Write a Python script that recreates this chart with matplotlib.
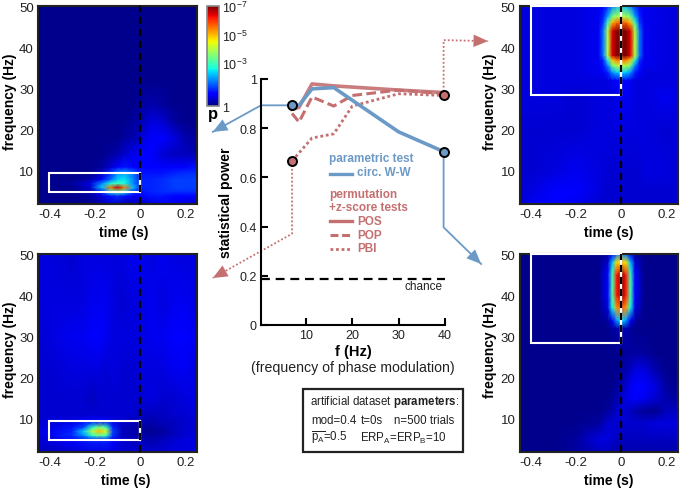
import matplotlib
matplotlib.use('Agg')
import matplotlib.pyplot as plt
from matplotlib.patches import Rectangle

plt.rcParams['font.family'] = ['Liberation Sans', 'DejaVu Sans']
plt.rcParams['mathtext.fontset'] = 'custom'
plt.rcParams['mathtext.rm'] = 'Liberation Sans'
plt.rcParams['mathtext.it'] = 'Liberation Sans'
plt.rcParams['mathtext.bf'] = 'Liberation Sans:bold'

W, H = 681, 489
BLUE = '#6c9ac6'
RED = '#c46f70'
DARK = '#222222'

# power curves, central plot
f_blue = [7, 8.5, 11.3, 16, 30, 39.7]
circ_ww = [0.893, 0.893, 0.96, 0.965, 0.785, 0.705]
f_pos = [7, 8.5, 11.3, 16, 30, 39.7]
pos = [0.877, 0.885, 0.98, 0.972, 0.955, 0.945]
f_pop = [7, 8.5, 11.3, 16, 20, 30, 39.7]
pop = [0.86, 0.825, 0.927, 0.89, 0.933, 0.955, 0.94]
f_pbi = [7, 11.3, 16, 20, 30, 39.7]
pbi = [0.667, 0.76, 0.777, 0.89, 0.94, 0.933]
chance_x = [0.3, 40]
chance_y = [0.187, 0.187]

# connectors from the circled points out to the panels (same units as the plot)
conn_blue_l = ([7, 0.3, -10.1], [0.893, 0.893, 0.785])
conn_blue_r = ([39.7, 39.7, 47.8], [0.705, 0.397, 0.248])
conn_red_l = ([7, 7, -10.1], [0.667, 0.371, 0.191])
conn_red_r = ([39.7, 39.7, 49.3], [0.933, 1.158, 1.154])
blue_dots = ([7, 39.7], [0.893, 0.705])
red_dots = ([7, 39.7], [0.667, 0.933])

# -log10(p)
t_tl = [-.45, -.4, -.3, -.22, -.17, -.13, -.1, -.07, -.03, 0, .05, .1, .15, .2, .25]
f_tl = [2, 4, 5, 6, 7, 8, 9.5, 11, 14, 18, 22, 26, 32, 50]
z_tl = [
    [.1, .1, .1, .1, .3, .5, .4, .3, .3, .4, .6, .7, .7, .6, .5],
    [.1, .1, .1, .2, .6, 1.0, 1.2, 1.0, .8, .8, 1.0, 1.0, .9, .9, .9],
    [.1, .1, .1, .3, 1.0, 2.6, 3.4, 2.6, 1.2, 1.0, 1.1, 1.2, 1.2, 1.2, 1.2],
    [.1, .1, .1, .5, 2.2, 5.5, 6.6, 5.5, 2.2, 1.1, 1.1, 1.2, 1.3, 1.3, 1.3],
    [.1, .1, .2, .6, 1.8, 2.7, 3.0, 2.7, 1.8, 1.1, 1.1, 1.2, 1.3, 1.3, 1.3],
    [.1, .1, .1, .3, .9, 1.6, 2.3, 2.5, 1.8, 1.1, 1.1, 1.2, 1.3, 1.3, 1.3],
    [.1, .1, .1, .1, .4, 1.2, 1.9, 2.0, 1.6, 1.0, 1.0, 1.0, 1.1, 1.2, 1.2],
    [.1, .1, .1, .1, .2, .5, .9, 1.0, .9, .8, .9, .8, .8, .9, 1.0],
    [.1, .1, .1, .1, .1, .2, .3, .5, .7, .8, .9, .5, .4, .4, .3],
    [.1, .1, .1, .1, .1, .1, .1, .2, .3, .5, .8, .8, .6, .3, .2],
    [.1, .1, .1, .1, .1, .1, .1, .1, .2, .3, .6, .5, .2, .1, .1],
    [.1, .1, .1, .1, .1, .1, .1, .1, .1, .2, .3, .2, .1, .1, .1],
    [.1, .1, .1, .1, .1, .1, .1, .1, .1, .1, .1, .1, .1, .1, .1],
    [.1, .1, .1, .1, .1, .1, .1, .1, .1, .1, .1, .1, .1, .1, .1],
]

t_bl = [-.45, -.4, -.3, -.25, -.21, -.18, -.15, -.12, -.08, -.03, 0, .05, .1, .15, .2, .25]
f_bl = [2, 5, 6, 7, 8, 9.5, 11, 15, 22, 30, 38, 50]
z_bl = [
    [.4, .4, .5, .6, .6, .6, .6, .6, .5, .5, .5, .5, .5, .6, .6, .6],
    [.5, .6, .8, 1.0, 1.1, 1.1, 1.1, .9, .5, .4, .4, .3, .4, .5, .6, .6],
    [.6, .7, 1.2, 1.8, 2.8, 3.3, 3.0, 1.2, .4, .3, .3, .2, .3, .4, .5, .6],
    [.6, .7, 1.1, 2.3, 4.0, 5.0, 4.2, 1.3, .4, .3, .2, .15, .2, .4, .5, .5],
    [.6, .6, 1.0, 1.4, 2.8, 3.6, 3.0, 1.1, .4, .3, .2, .2, .3, .4, .5, .5],
    [.5, .6, .6, .8, .9, .9, .9, .6, .5, .4, .4, .3, .4, .4, .5, .5],
    [.5, .5, .5, .5, .5, .5, .5, .5, .5, .5, .4, .4, .4, .5, .5, .6],
    [.5, .5, .5, .5, .4, .5, .5, .5, .5, .5, .5, .6, .5, .5, .6, .6],
    [.5, .5, .6, .6, .6, .6, .5, .6, .5, .5, .6, .6, .6, .7, .7, .6],
    [.5, .6, .7, .7, .8, .8, .7, .6, .6, .6, .6, .7, .7, .8, .9, .7],
    [.6, .6, .6, .6, .7, .7, .7, .6, .5, .6, .6, .7, .6, .7, .7, .6],
    [.6, .6, .5, .6, .6, .6, .6, .6, .6, .7, .7, .6, .7, .6, .6, .6],
]

t_tr = [-.45, -.4, -.3, -.2, -.1, -.08, -.06, -.04, -.02, 0, .02, .04, .06, .08, .1, .2, .25]
f_tr = [2, 5, 10, 20, 28, 32, 34, 35.6, 37, 38, 44, 46, 47.5, 50]
z_tr = [
    [.5, .7, .8, .7, .5, .5, .5, .5, .5, .5, .5, .5, .5, .5, .5, .5, .5],
    [.5, .6, .8, .8, .6, .5, .5, .5, .5, .5, .5, .5, .5, .5, .5, .5, .5],
    [.5, .5, .6, .7, .6, .6, .5, .5, .5, .5, .5, .5, .5, .5, .6, .6, .5],
    [.5, .5, .5, .5, .6, .6, .6, .6, .6, .6, .6, .6, .6, .6, .6, .5, .6],
    [.6, .6, .6, .5, .6, .6, .6, .6, .7, .7, .7, .7, .6, .6, .6, .7, .6],
    [.6, .6, .6, .6, .6, .6, .6, .7, .8, .8, .8, .7, .6, .6, .6, .6, .6],
    [.6, .6, .6, .6, .7, .8, 1.1, 1.9, 2.3, 2.4, 2.3, 1.9, 1.1, .8, .6, .6, .6],
    [.6, .6, .6, .6, .7, 1.0, 1.8, 3.4, 4.0, 4.1, 4.0, 3.4, 1.8, 1.0, .7, .6, .6],
    [.6, .6, .6, .6, .7, 1.2, 2.8, 4.9, 5.5, 5.6, 5.5, 4.9, 2.8, 1.2, .7, .6, .6],
    [.6, .6, .6, .6, .7, 1.7, 4.0, 6.4, 7.0, 7.0, 7.0, 6.4, 4.0, 1.7, .7, .6, .6],
    [.6, .6, .6, .6, .7, 1.7, 4.0, 6.4, 7.0, 7.0, 7.0, 6.4, 4.0, 1.7, .7, .6, .6],
    [.6, .6, .6, .6, .7, 1.3, 3.0, 5.0, 5.6, 5.7, 5.6, 5.0, 3.0, 1.3, .7, .6, .6],
    [.6, .6, .6, .6, .7, 1.1, 2.0, 3.4, 3.9, 4.0, 3.9, 3.4, 2.0, 1.1, .7, .6, .6],
    [.6, .6, .6, .6, .7, .9, 1.2, 1.8, 2.2, 2.3, 2.2, 1.8, 1.2, .9, .7, .6, .6],
]

t_br = [-.45, -.3, -.2, -.1, -.06, -.04, -.02, 0, .02, .04, .06, .1, .15, .2, .25]
f_br = [2, 5, 9, 12, 15, 18, 22, 26, 32, 34, 37, 40, 45, 48, 50]
z_br = [
    [.1, .1, .2, .4, .4, .3, .3, .3, .3, .3, .3, .3, .3, .3, .3],
    [.1, .1, .2, .6, .6, .5, .4, .4, .4, .4, .4, .4, .4, .4, .4],
    [.1, .1, .1, .2, .5, .5, .5, .5, .5, .5, .5, .5, .6, .6, .6],
    [.1, .1, .1, .1, .2, .3, .5, .5, .5, .4, .3, .15, .1, .4, .4],
    [.1, .1, .1, .1, .1, .2, .3, .5, .6, .7, .8, .7, .5, .3, .2],
    [.1, .1, .1, .1, .1, .1, .2, .3, .5, .7, .9, .9, .6, .2, .1],
    [.1, .1, .1, .1, .1, .1, .1, .2, .3, .4, .6, .6, .3, .1, .1],
    [.1, .1, .1, .1, .1, .1, .1, .1, .2, .2, .2, .2, .1, .1, .1],
    [.1, .1, .1, .1, .1, .2, .3, .4, .3, .2, .1, .1, .1, .1, .1],
    [.1, .1, .1, .1, .2, .9, 2.0, 2.4, 2.0, .9, .2, .1, .1, .1, .1],
    [.1, .1, .1, .1, .6, 2.6, 5.2, 5.8, 5.2, 2.6, .6, .1, .1, .1, .1],
    [.1, .1, .1, .1, .8, 3.1, 6.2, 7.0, 6.2, 3.1, .8, .1, .1, .1, .1],
    [.1, .1, .1, .1, .8, 3.0, 6.2, 7.0, 6.2, 3.0, .8, .1, .1, .1, .1],
    [.1, .1, .1, .1, .5, 2.2, 4.6, 5.0, 4.6, 2.2, .5, .1, .1, .1, .1],
    [.1, .1, .1, .1, .2, .9, 1.6, 2.0, 1.6, .9, .2, .1, .1, .1, .1],
]


def add_axes_px(fig, left, top, right, bottom):
    return fig.add_axes([left / W, 1 - bottom / H, (right - left) / W, (bottom - top) / H])


def draw_map(ax, t, f, z, box, xlab_x, ylab_x):
    mesh = ax.pcolormesh(t, f, z, cmap='jet', vmin=0, vmax=7, shading='gouraud')
    ax.add_patch(Rectangle((box[0], box[1]), box[2] - box[0], box[3] - box[1],
                           fill=False, ec='white', lw=1.5, clip_on=False, zorder=3))
    ax.plot([0, 0], [box[1], box[3]], color='white', lw=1.6, zorder=3)
    ax.plot([0, 0], [2, 50], color='black', lw=1.6, ls=(0, (3.2, 2.2)), zorder=4)
    ax.set_xlim(-.45, .25)
    ax.set_ylim(2, 50)
    ax.set_xticks([-.4, -.2, 0, .2], ['-0.4', '-0.2', '0', '0.2'])
    ax.set_yticks([10, 20, 30, 40, 50])
    ax.tick_params(length=0, labelsize=9.5, pad=3, labelcolor=DARK)
    ax.set_xlabel('time (s)', fontsize=10, fontweight='bold')
    ax.set_ylabel('frequency (Hz)', fontsize=10, fontweight='bold')
    ax.xaxis.set_label_coords(xlab_x, -0.105)
    ax.yaxis.set_label_coords(ylab_x, 0.52)
    for s in ax.spines.values():
        s.set_linewidth(1.5)
        s.set_color('#222222')
    return mesh


def connector(ax, xy, color, ls):
    xs, ys = xy
    ax.plot(xs, ys, color=color, lw=1.3, ls=ls, clip_on=False, zorder=2)
    # solid head on the last leg
    sx = xs[-1] + 0.25 * (xs[-2] - xs[-1])
    sy = ys[-1] + 0.25 * (ys[-2] - ys[-1])
    ax.annotate('', xy=(xs[-1], ys[-1]), xytext=(sx, sy), annotation_clip=False,
                arrowprops=dict(arrowstyle='-|>,head_length=0.75,head_width=0.32',
                                color=color, lw=0, shrinkA=0, shrinkB=0, mutation_scale=14))


fig = plt.figure(figsize=(W / 100, H / 100), dpi=100, facecolor='white')

ax_tl = add_axes_px(fig, 38, 7, 197, 205)
ax_bl = add_axes_px(fig, 38, 255, 197, 453)
ax_tr = add_axes_px(fig, 519.5, 7, 678, 205)
ax_br = add_axes_px(fig, 519.5, 255, 678, 453)

mesh = draw_map(ax_tl, t_tl, f_tl, z_tl, (-.4, 5, 0, 9.5), 0.54, -0.13)
draw_map(ax_bl, t_bl, f_bl, z_bl, (-.4, 5, 0, 9.5), 0.55, -0.13)
draw_map(ax_tr, t_tr, f_tr, z_tr, (-.4, 28.5, 0, 50), 0.56, -0.14)
draw_map(ax_br, t_br, f_br, z_br, (-.4, 28.5, 0, 50), 0.56, -0.14)

# colorbar
cax = add_axes_px(fig, 207, 7, 219, 107)
cb = fig.colorbar(mesh, cax=cax, ticks=[0, 3, 5, 7])
cb.ax.set_yticklabels(['1', '$10^{-3}$', '$10^{-5}$', '$10^{-7}$'], fontsize=9, color=DARK)
cb.ax.tick_params(length=0, pad=2)
cb.outline.set_edgecolor('#888888')
cb.outline.set_linewidth(1.2)
fig.text(213 / W, 1 - 115 / H, 'p', fontsize=12, fontweight='bold', ha='center', va='center')

# central plot
ax = add_axes_px(fig, 261, 80, 445, 326)
ax.patch.set_alpha(0)
ax.set_xlim(0.3, 40)
ax.set_ylim(0, 1)
ax.spines['top'].set_visible(False)
ax.spines['right'].set_visible(False)
ax.spines['left'].set_linewidth(1.5)
ax.spines['bottom'].set_linewidth(1.5)
ax.set_xticks([10, 20, 30, 40])
ax.set_yticks([0, .2, .4, .6, .8, 1], ['0', '0.2', '0.4', '0.6', '0.8', '1'])
ax.tick_params(direction='in', length=5, width=1.5, labelsize=9, pad=3, labelcolor=DARK)
ax.set_ylabel('statistical power', fontsize=10.2, fontweight='bold', labelpad=5)

ax.plot(chance_x, chance_y, color='black', lw=1.6, ls=(0, (4, 2.6)))
ax.text(35.4, 0.158, 'chance', fontsize=8.5, ha='center', va='center', color=DARK)

connector(ax, conn_blue_l, BLUE, '-')
connector(ax, conn_blue_r, BLUE, '-')
connector(ax, conn_red_l, RED, (0, (1, 1.2)))
connector(ax, conn_red_r, RED, (0, (1, 1.2)))

ax.plot(f_pos, pos, color=RED, lw=2.6, alpha=.9, clip_on=False)
ax.plot(f_pop, pop, color=RED, lw=2.2, ls=(0, (3.2, 1.4)), clip_on=False)
ax.plot(f_pbi, pbi, color=RED, lw=2, ls=(0, (1, 1)), clip_on=False)
ax.plot(f_blue, circ_ww, color=BLUE, lw=2.6, clip_on=False)
ax.plot(*blue_dots, 'o', ms=6.5, mfc=BLUE, mec='black', mew=1.4, ls='none', clip_on=False, zorder=5)
ax.plot(*red_dots, 'o', ms=6.5, mfc=RED, mec='black', mew=1.4, ls='none', clip_on=False, zorder=5)

# hand placed legend
ax.plot([15.2, 20], [0.614, 0.614], color=BLUE, lw=2.4)
ax.plot([15.2, 20], [0.421, 0.421], color=RED, lw=2.4)
ax.plot([15.2, 20], [0.364, 0.364], color=RED, lw=2.2, ls=(0, (2.6, 1.2)))
ax.plot([15.2, 20], [0.31, 0.31], color=RED, lw=2, ls=(0, (1, 1)))

for px, py, txt, col, fw in [
    (329, 159, 'parametric test', BLUE, 'bold'),
    (357, 173, 'circ. W-W', BLUE, 'bold'),
    (329, 195, 'permutation', RED, 'bold'),
    (329, 208, '+z-score tests', RED, 'bold'),
    (357, 222, 'POS', RED, 'bold'),
    (357, 236, 'POP', RED, 'bold'),
    (357, 249, 'PBI', RED, 'bold'),
]:
    fig.text(px / W, 1 - py / H, txt, color=col, fontweight=fw, fontsize=8.5, va='center')

fig.text(353 / W, 1 - 352 / H, 'f (Hz)', fontsize=10.5, fontweight='bold', ha='center', va='center')
fig.text(353 / W, 1 - 368 / H, '(frequency of phase modulation)', fontsize=10.2, ha='center', va='center', color=DARK)

# parameters box
fig.add_artist(Rectangle((302.5 / W, 1 - 452.5 / H), 160 / W, 62.5 / H, fill=False,
                         ec='#222222', lw=1.6, transform=fig.transFigure))
fig.text(310 / W, 1 - 402 / H, r'artificial dataset $\mathbf{parameters}$:', fontsize=8.3, va='center', color=DARK)
fig.text(311 / W, 1 - 421 / H, 'mod=0.4', fontsize=8.3, va='center', color=DARK)
fig.text(361 / W, 1 - 421 / H, 't=0s', fontsize=8.3, va='center', color=DARK)
fig.text(394 / W, 1 - 421 / H, 'n=500 trials', fontsize=8.3, va='center', color=DARK)
fig.text(311 / W, 1 - 438 / H, r'$\overline{\mathrm{p}_{\mathrm{A}}}$=0.5', fontsize=8.3, va='center', color=DARK)
fig.text(360 / W, 1 - 438 / H, r'ERP$_{\mathrm{A}}$=ERP$_{\mathrm{B}}$=10', fontsize=8.3, va='center', color=DARK)

fig.savefig('out.png', dpi=100)
